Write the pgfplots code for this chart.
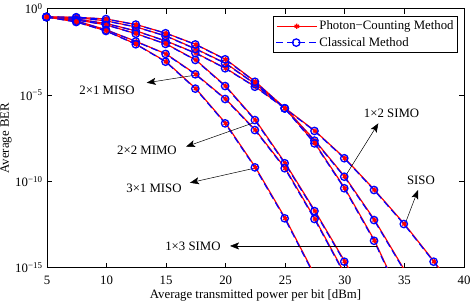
\documentclass[border=0pt]{standalone}
\usepackage{fontspec}
\setmainfont{Liberation Serif}
\usepackage{pgfplots}
\usepackage{pgfplotstable}
\pgfplotsset{compat=1.18}
\usetikzlibrary{arrows.meta}

\pgfplotstableread{
x y
5 3.311e-1
7.5 2.512e-1
10 1.380e-1
12.5 5.129e-2
15 1.349e-2
17.5 2.692e-3
20 3.548e-4
22.5 3.020e-5
25 1.698e-6
27.5 8.318e-8
30 2.188e-9
32.5 3.162e-11
35 3.388e-13
37.5 2.239e-15
40 1.023e-17
}\siso

\pgfplotstableread{
x y
5 3.311e-1
7.5 3.090e-1
10 1.950e-1
12.5 8.710e-2
15 2.630e-2
17.5 4.677e-3
20 6.918e-4
22.5 4.365e-5
25 1.698e-6
27.5 2.291e-8
30 1.862e-10
32.5 5.754e-13
35 7.413e-16
37.5 9.333e-19
}\simoA

\pgfplotstableread{
x y
5 3.311e-1
7.5 3.200e-1
10 2.512e-1
12.5 1.202e-1
15 3.802e-2
17.5 8.511e-3
20 1.175e-3
22.5 5.888e-5
25 1.698e-6
27.5 1.585e-8
30 3.981e-11
32.5 3.631e-14
35 6.918e-18
}\simoB

\pgfplotstableread{
x y
5 3.311e-1
7.5 2.239e-1
10 1.148e-1
12.5 3.548e-2
15 9.120e-3
17.5 1.072e-3
20 3.311e-5
22.5 3.548e-7
25 1.122e-9
27.5 1.905e-12
30 2.239e-15
32.5 1.820e-18
}\mimo

\pgfplotstableread{
x y
5 3.311e-1
7.5 1.950e-1
10 5.888e-2
12.5 1.259e-2
15 2.399e-3
17.5 1.585e-4
20 5.888e-6
22.5 9.333e-8
25 5.754e-10
27.5 6.607e-13
30 4.365e-16
}\misoA

\pgfplotstableread{
x y
5 3.311e-1
7.5 1.698e-1
10 5.129e-2
12.5 8.710e-3
15 8.511e-4
17.5 2.344e-5
20 2.291e-7
22.5 6.457e-10
25 7.244e-13
27.5 3.388e-16
}\misoB

\pgfplotsset{
  longlegend/.style={legend image code/.code={\draw[mark repeat=2, mark phase=2, ##1] plot coordinates {(0pt,0pt) (20pt,0pt) (40pt,0pt)};}},
  pcstyle/.style={red, line width=1.2pt, mark=asterisk, mark size=2.6pt, mark options={solid, line width=1.3pt}, longlegend},
  clstyle/.style={blue, line width=1.2pt, dash pattern=on 7pt off 4pt, mark=o, mark size=3.7pt, mark options={solid, line width=1.3pt}, xshift=-0.6pt, longlegend},
}

\begin{document}
\fontsize{12.8}{15}\selectfont
\begin{tikzpicture}
\begin{axis}[
  name=ax,
  scale only axis,
  width=417pt, height=259pt,
  ymode=log,
  xmin=5, xmax=40, ymin=1e-15, ymax=1,
  xtick={5,10,...,40},
  ytick={1e-15,1e-10,1e-5,1},
  yticklabels={10\textsuperscript{−15},10\textsuperscript{−10},10\textsuperscript{−5},10\textsuperscript{0}},
  yminorticks=false,
  tick align=inside,
  major tick length=5pt,
  axis line style={line width=0.8pt},
  every tick/.style={black, line width=0.8pt},
  /pgf/number format/assume math mode=true,
  tick label style={font=\fontsize{12.8}{15}\selectfont},
  xticklabel style={yshift=-3.5pt},
  label style={font=\fontsize{12.8}{15}\selectfont},
  xlabel={Average transmitted power per bit [dBm]},
  ylabel={Average BER},
  xlabel style={at={(axis description cs:0.5,-0.106)}, anchor=center},
  ylabel style={at={(axis description cs:-0.0984,0.5)}, anchor=center},
  legend style={at={(1,1)}, anchor=north east, xshift=-6pt, yshift=-7.3pt,
    draw=black, line width=0.8pt, fill=white,
    font=\fontsize{12.8}{15}\selectfont, cells={anchor=west},
    inner xsep=2pt, inner ysep=2.5pt, row sep=1.5pt},
]
\addplot[pcstyle] table {\siso};
\addlegendentry{Photon−Counting Method}
\addplot[clstyle] table {\siso};
\addlegendentry{Classical Method}

\addplot[pcstyle, forget plot] table {\simoA};
\addplot[clstyle, forget plot] table {\simoA};
\addplot[pcstyle, forget plot] table {\simoB};
\addplot[clstyle, forget plot] table {\simoB};
\addplot[pcstyle, forget plot] table {\mimo};
\addplot[clstyle, forget plot] table {\mimo};
\addplot[pcstyle, forget plot] table {\misoA};
\addplot[clstyle, forget plot] table {\misoA};
\addplot[pcstyle, forget plot] table {\misoB};
\addplot[clstyle, forget plot] table {\misoB};

% annotations
\draw[line width=0.5pt, -{Stealth[length=9pt, width=7pt, inset=2pt]}] (axis cs:17.51,1.445e-4) -- (axis cs:13.37,5.13e-5);
\node at (axis cs:10.04,1.778e-5) {2×1 MISO};
\draw[line width=0.5pt, -{Stealth[length=9pt, width=7pt, inset=2pt]}] (axis cs:22.29,2.40e-7) -- (axis cs:16.67,1.023e-8);
\node at (axis cs:13.39,6.61e-9) {2×2 MIMO};
\draw[line width=0.5pt, -{Stealth[length=9pt, width=7pt, inset=2pt]}] (axis cs:22.46,5.89e-10) -- (axis cs:17.0,8.32e-11);
\node at (axis cs:13.98,3.98e-11) {3×1 MISO};
\draw[line width=0.5pt, -{Stealth[length=9pt, width=7pt, inset=2pt]}] (axis cs:32.67,1.82e-14) -- (axis cs:20.36,1.82e-14);
\node at (axis cs:17.25,1.82e-14) {1×3 SIMO};
\draw[line width=0.5pt, -{Stealth[length=9pt, width=7pt, inset=2pt]}] (axis cs:30.01,1.862e-10) -- (axis cs:32.81,2.291e-7);
\node at (axis cs:33.92,8.71e-7) {1×2 SIMO};
\draw[line width=0.5pt, -{Stealth[length=9pt, width=7pt, inset=2pt]}] (axis cs:35.05,3.388e-13) -- (axis cs:36.14,3.162e-11);
\node at (axis cs:36.39,1.202e-10) {SISO};
\end{axis}
\pgfresetboundingbox
\path[use as bounding box] ([shift={(-47pt,-37.3pt)}]ax.south west) rectangle ([shift={(7pt,8.7pt)}]ax.north east);
\end{tikzpicture}
\end{document}
